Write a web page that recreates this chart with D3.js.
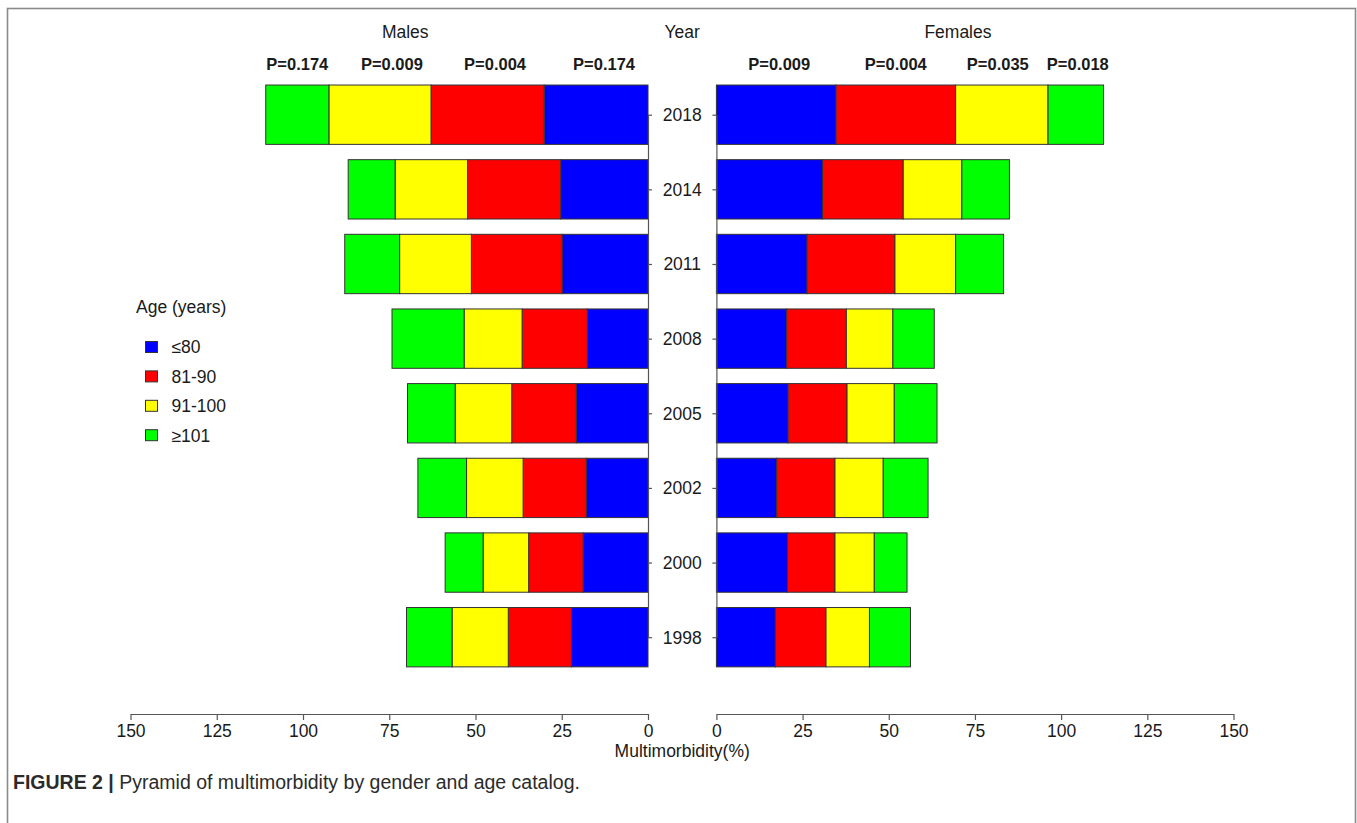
<!DOCTYPE html>
<html>
<head>
<meta charset="utf-8">
<script src="https://cdn.jsdelivr.net/npm/d3@7/dist/d3.min.js"></script>
<style>
  html, body { margin: 0; padding: 0; background: #fff; }
  svg { display: block; font-family: "Liberation Sans", Arial, Helvetica, sans-serif; }
</style>
</head>
<body>
<svg id="chart" width="1357" height="823"></svg>
<script>
// Survey years, top to bottom
const years = ["2018", "2014", "2011", "2008", "2005", "2002", "2000", "1998"];

// Age groups, stacked outward from the centre
const ageGroups = ["≤80", "81-90", "91-100", "≥101"];
const ageColors = ["#0000FF", "#FF0000", "#FFFF00", "#00FF00"];

// Multimorbidity (%) per age group, one row per year (same order as years)
const malesLe80   = [30.1, 25.3, 24.9, 17.6, 20.8, 17.9, 18.8, 22.2];
const males81_90  = [32.8, 27.0, 26.3, 18.9, 18.7, 18.3, 15.8, 18.3];
const males91_100 = [29.6, 21.0, 20.8, 16.8, 16.4, 16.4, 13.2, 16.3];
const malesGe101  = [18.3, 13.6, 15.9, 20.9, 13.8, 14.1, 11.0, 13.2];

const femalesLe80   = [34.7, 30.8, 26.3, 20.4, 20.8, 17.5, 20.6, 17.1];
const females81_90  = [34.7, 23.4, 25.5, 17.3, 17.1, 16.9, 13.8, 14.7];
const females91_100 = [26.8, 17.0, 17.6, 13.5, 13.7, 14.0, 11.4, 12.6];
const femalesGe101  = [16.1, 13.8, 13.9, 12.0, 12.4, 13.0,  9.5, 11.9];

// P values for trend tests, one per age group
const malesP   = ["P=0.174", "P=0.004", "P=0.009", "P=0.174"];   // ≤80, 81-90, 91-100, ≥101
const femalesP = ["P=0.009", "P=0.004", "P=0.035", "P=0.018"];

const xTicks = [0, 25, 50, 75, 100, 125, 150];

const svg = d3.select("#chart");
const textColor = "#1a1a1a";
const axisColor = "#555";
const fontSize = "17.5px";

// outer figure frame
svg.append("rect")
  .attr("x", 7.5).attr("y", 8.5)
  .attr("width", 1348).attr("height", 830)
  .attr("fill", "none").attr("stroke", "#8a8a8a").attr("stroke-width", 1.6);

// scales
const xL = d3.scaleLinear().domain([0, 150]).range([648, 130.5]);
const xR = d3.scaleLinear().domain([0, 150]).range([716.4, 1233.5]);
const y = d3.scalePoint().domain(years).range([114.7, 637.2]);
const barH = y.step() * 0.795;

function stackRows(series) {
  return years.map((yr, i) => {
    let acc = 0;
    return series.map((s, k) => {
      const seg = { year: yr, k, x0: acc, x1: acc + s[i] };
      acc += s[i];
      return seg;
    });
  });
}

const maleRows = stackRows([malesLe80, males81_90, males91_100, malesGe101]);
const femaleRows = stackRows([femalesLe80, females81_90, females91_100, femalesGe101]);

function drawBars(rows, x, cls) {
  const g = svg.append("g").attr("class", cls);
  g.selectAll("rect")
    .data(rows.flat())
    .join("rect")
    .attr("x", d => Math.min(x(d.x0), x(d.x1)))
    .attr("width", d => Math.abs(x(d.x1) - x(d.x0)))
    .attr("y", d => y(d.year) - barH / 2)
    .attr("height", barH)
    .attr("fill", d => ageColors[d.k])
    .attr("stroke", "#333")
    .attr("stroke-width", 1);
}
drawBars(maleRows, xL, "males");
drawBars(femaleRows, xR, "females");

// bottom axes
function styleAxis(g) {
  g.selectAll("path, line").attr("stroke", axisColor).attr("stroke-width", 1.2);
  g.selectAll("text").attr("fill", textColor).style("font-size", fontSize)
    .style("font-family", "'Liberation Sans', Arial, sans-serif");
}
svg.append("g").attr("transform", "translate(0,714)")
  .call(d3.axisBottom(xL).tickValues(xTicks).tickSize(6).tickSizeOuter(0).tickPadding(5))
  .call(styleAxis);
svg.append("g").attr("transform", "translate(0,714)")
  .call(d3.axisBottom(xR).tickValues(xTicks).tickSize(6).tickSizeOuter(0).tickPadding(5))
  .call(styleAxis);

// year axes on the inner edge of each half
svg.append("g").attr("transform", "translate(648,0)")
  .call(d3.axisRight(y).tickSize(4).tickSizeOuter(0).tickFormat(""))
  .call(styleAxis);
svg.append("g").attr("transform", "translate(716.4,0)")
  .call(d3.axisLeft(y).tickSize(4).tickSizeOuter(0).tickFormat(""))
  .call(styleAxis);

// year labels in the centre gap
svg.append("g").selectAll("text")
  .data(years)
  .join("text")
  .attr("x", 682.2)
  .attr("y", d => y(d))
  .attr("dy", "0.36em")
  .attr("text-anchor", "middle")
  .attr("fill", textColor)
  .style("font-size", fontSize)
  .text(d => d);

// headers
const headers = [
  { t: "Males", x: (xL(0) + xL(150)) / 2 + 16 },
  { t: "Year", x: 682.2 },
  { t: "Females", x: (xR(0) + xR(150)) / 2 - 17 }
];
svg.append("g").selectAll("text")
  .data(headers)
  .join("text")
  .attr("x", d => d.x).attr("y", 38)
  .attr("text-anchor", "middle")
  .attr("fill", textColor)
  .style("font-size", fontSize)
  .text(d => d.t);

// P values above the segments of the top bar (small pixel nudges per label)
const maleNudge = [8, 7.5, 12, 0];
const femaleNudge = [3, 0, -4, 2];
function drawP(rowTop, labels, x, nudge) {
  svg.append("g").selectAll("text")
    .data(rowTop)
    .join("text")
    .attr("x", d => x((d.x0 + d.x1) / 2) + nudge[d.k])
    .attr("y", 70)
    .attr("text-anchor", "middle")
    .attr("fill", textColor)
    .style("font-size", "16.5px")
    .style("font-weight", "bold")
    .text(d => labels[d.k]);
}
drawP(maleRows[0], malesP, xL, maleNudge);
drawP(femaleRows[0], femalesP, xR, femaleNudge);

// x axis title
svg.append("text")
  .attr("x", 682.2).attr("y", 757)
  .attr("text-anchor", "middle")
  .attr("fill", textColor)
  .style("font-size", fontSize)
  .text("Multimorbidity(%)");

// legend
const legend = svg.append("g");
legend.append("text")
  .attr("x", 136).attr("y", 313)
  .attr("fill", textColor)
  .style("font-size", fontSize)
  .text("Age (years)");
const items = legend.selectAll("g.item")
  .data(ageGroups)
  .join("g")
  .attr("class", "item")
  .attr("transform", (d, i) => `translate(0,${347 + i * 29.4})`);
items.append("rect")
  .attr("x", 145.5).attr("y", -5.5)
  .attr("width", 12).attr("height", 11)
  .attr("fill", (d, i) => ageColors[i])
  .attr("stroke", "#333").attr("stroke-width", 1);
items.append("text")
  .attr("x", 171.5).attr("dy", "0.36em")
  .attr("fill", textColor)
  .style("font-size", fontSize)
  .text(d => d);

// caption
const cap = svg.append("text")
  .attr("x", 13).attr("y", 789)
  .attr("fill", "#2b2b2b")
  .style("font-size", "19.5px");
cap.append("tspan").style("font-weight", "bold").text("FIGURE 2 | ");
cap.append("tspan").text("Pyramid of multimorbidity by gender and age catalog.");
</script>
</body>
</html>
